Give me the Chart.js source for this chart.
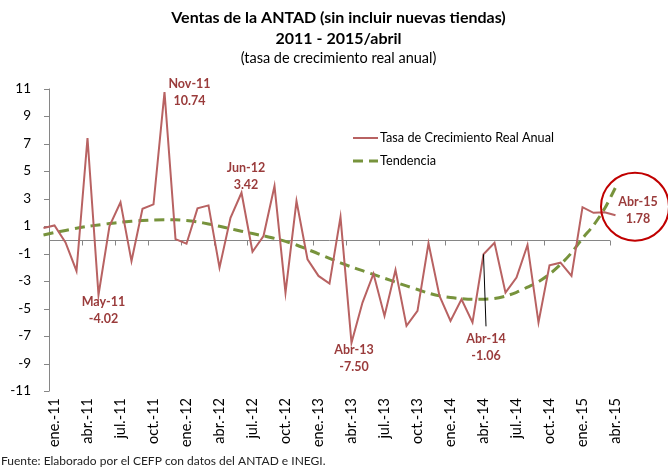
<!DOCTYPE html>
<html>
<head>
<meta charset="utf-8">
<script src="https://cdn.jsdelivr.net/npm/chart.js@4.4.1/dist/chart.umd.min.js"></script>
<style>
  html, body { margin: 0; padding: 0; background: #fff; }
  #wrap { width: 668px; height: 469px; position: relative; }
</style>
</head>
<body>
<div id="wrap"><canvas id="chart"></canvas></div>
<script>
// meses, dic-10 a abr-15
const months = [
  'dic.-10',
  'ene.-11','feb.-11','mar.-11','abr.-11','may.-11','jun.-11','jul.-11','ago.-11','sep.-11','oct.-11','nov.-11','dic.-11',
  'ene.-12','feb.-12','mar.-12','abr.-12','may.-12','jun.-12','jul.-12','ago.-12','sep.-12','oct.-12','nov.-12','dic.-12',
  'ene.-13','feb.-13','mar.-13','abr.-13','may.-13','jun.-13','jul.-13','ago.-13','sep.-13','oct.-13','nov.-13','dic.-13',
  'ene.-14','feb.-14','mar.-14','abr.-14','may.-14','jun.-14','jul.-14','ago.-14','sep.-14','oct.-14','nov.-14','dic.-14',
  'ene.-15','feb.-15','mar.-15','abr.-15'
];

// Tasa de Crecimiento Real Anual
const growth = [
  0.85,
  1.04, -0.20, -2.27, 7.40, -4.02, 1.00, 2.72, -1.55, 2.25, 2.57, 10.74, 0.05,
  -0.29, 2.28, 2.50, -2.03, 1.60, 3.42, -0.87, 0.27, 3.90, -3.85, 2.81, -1.42,
  -2.63, -3.19, 1.65, -7.50, -4.57, -2.47, -5.54, -2.20, -6.26, -5.17, -0.26, -4.09,
  -5.90, -4.33, -6.02, -1.06, -0.22, -3.85, -2.75, -0.38, -6.02, -1.86, -1.67, -2.63,
  2.37, 1.96, 2.00, 1.78
];

// Tendencia
const trend = [
  0.35,
  0.52, 0.68, 0.84, 0.97, 1.08, 1.18, 1.27, 1.34, 1.40, 1.44, 1.46, 1.45,
  1.40, 1.30, 1.15, 0.98, 0.80, 0.62, 0.45, 0.28, 0.10, -0.12, -0.38, -0.70,
  -1.02, -1.36, -1.68, -1.98, -2.25, -2.52, -2.80, -3.08, -3.36, -3.62, -3.88, -4.08,
  -4.20, -4.28, -4.33, -4.33, -4.28, -4.10, -3.82, -3.45, -3.05, -2.50, -1.80, -0.95,
  0.10, 1.05, 2.25, 3.80
];

const yMin = -11, yMax = 11, yStep = 2;

const RED = '#b86262';
const GREEN = '#77933c';
const NOTE = '#9a3b3b';
const AXIS = '#868686';

Chart.defaults.font.family = 'Lato, "Noto Sans", sans-serif';
Chart.defaults.color = '#000';

function noteName(m) {
  const s = m.replace('.', '');
  return s.charAt(0).toUpperCase() + s.slice(1);
}

// ejes tipo Excel: eje vertical entre dic-10 y ene-11, linea en cero
const axesPlugin = {
  id: 'excelAxes',
  beforeDatasetsDraw(chart) {
    const {ctx, scales: {x, y}} = chart;
    const bx = k => (x.getPixelForValue(k) + x.getPixelForValue(k + 1)) / 2;
    const ax = bx(0);
    const y0 = y.getPixelForValue(0);
    ctx.save();
    ctx.strokeStyle = AXIS;
    ctx.lineWidth = 1;
    ctx.beginPath();
    ctx.moveTo(ax + 0.5, y.getPixelForValue(yMax));
    ctx.lineTo(ax + 0.5, y.getPixelForValue(yMin));
    y.ticks.forEach(t => {
      const py = Math.round(y.getPixelForValue(t.value)) + 0.5;
      ctx.moveTo(ax - 5, py);
      ctx.lineTo(ax + 0.5, py);
    });
    const yz = Math.round(y0) + 0.5;
    ctx.moveTo(ax, yz);
    ctx.lineTo(bx(months.length - 2), yz);
    for (let k = 0; k < months.length - 1; k += 3) {
      const px = Math.round(bx(k)) + 0.5;
      ctx.moveTo(px, yz);
      ctx.lineTo(px, yz + 5);
    }
    ctx.stroke();
    ctx.restore();
  }
};

const notesPlugin = {
  id: 'notes',
  afterDatasetsDraw(chart, args, opts) {
    const {ctx, scales: {x, y}} = chart;
    ctx.save();
    ctx.font = 'bold 12.5px Lato, "Noto Sans", sans-serif';
    ctx.fillStyle = NOTE;
    ctx.textAlign = 'center';
    ctx.textBaseline = 'middle';
    opts.items.forEach(n => {
      const px = x.getPixelForValue(n.index);
      const py = y.getPixelForValue(growth[n.index]);
      if (n.leader) {
        ctx.strokeStyle = '#000';
        ctx.lineWidth = 1;
        ctx.beginPath();
        ctx.moveTo(px, py);
        ctx.lineTo(px + n.dx, py + n.leader);
        ctx.stroke();
      }
      if (n.circle) {
        ctx.strokeStyle = '#c00000';
        ctx.lineWidth = 2;
        ctx.beginPath();
        ctx.arc(px + n.circle.dx, py + n.circle.dy, n.circle.r, 0, Math.PI * 2);
        ctx.stroke();
      }
      ctx.fillText(noteName(months[n.index]), px + n.dx, py + n.dy);
      ctx.fillText(growth[n.index].toFixed(2), px + n.dx, py + n.dy + 17);
    });
    ctx.restore();
  }
};

const legendPlugin = {
  id: 'boxLegend',
  afterDraw(chart, args, opts) {
    const {ctx} = chart;
    ctx.save();
    ctx.font = '12.7px Lato, "Noto Sans", sans-serif';
    ctx.textBaseline = 'middle';
    ctx.fillStyle = '#000';
    chart.data.datasets.forEach((ds, i) => {
      const ly = opts.y + i * opts.gap;
      ctx.strokeStyle = ds.borderColor;
      ctx.lineWidth = ds.borderWidth;
      ctx.setLineDash(ds.borderDash || []);
      ctx.beginPath();
      ctx.moveTo(opts.x, ly);
      ctx.lineTo(opts.x + 25, ly);
      ctx.stroke();
      ctx.setLineDash([]);
      ctx.fillText(ds.label, opts.x + 27, ly);
    });
    // fuente
    ctx.font = '12px Lato, "Noto Sans", sans-serif';
    ctx.fillStyle = '#222';
    ctx.fillText('Fuente: Elaborado por el CEFP con datos del ANTAD e INEGI.', 1, 461);
    ctx.restore();
  }
};

const ctx = document.getElementById('chart').getContext('2d');

const data = {
  labels: months,
  datasets: [
    {
      label: 'Tasa de Crecimiento Real Anual',
      data: growth,
      borderColor: RED,
      borderWidth: 2,
      pointRadius: 0,
      tension: 0,
      fill: false,
    },
    {
      label: 'Tendencia',
      data: trend,
      borderColor: GREEN,
      borderWidth: 3,
      borderDash: [10, 6],
      pointRadius: 0,
      tension: 0.3,
      fill: false,
    },
  ],
};

const config = {
  type: 'line',
  data: data,
  options: {
    responsive: true,
    maintainAspectRatio: false,
    animation: false,
    layout: { padding: { left: 9, right: 0, top: 0, bottom: 0 } },
    plugins: {
      legend: { display: false },
      tooltip: { enabled: false },
      title: {
        display: true,
        text: ['Ventas de la ANTAD (sin incluir nuevas tiendas)', '2011 - 2015/abril'],
        font: { size: 16, weight: 'bold', lineHeight: 1.33 },
        color: '#000',
        padding: { top: 7, bottom: 0 },
      },
      subtitle: {
        display: true,
        text: '(tasa de crecimiento real anual)',
        font: { size: 14.5, lineHeight: 1.1 },
        color: '#000',
        padding: { top: 1, bottom: 22 },
      },
      notes: {
        items: [
          { index: 11, dx: 25, dy: -8 },
          { index: 5, dx: 5, dy: 7 },
          { index: 18, dx: 4.5, dy: -25 },
          { index: 28, dx: 2.5, dy: 7 },
          { index: 40, dx: 2.5, dy: 85, leader: 72 },
          { index: 52, dx: 22.5, dy: -13, circle: { dx: 19.5, dy: -8.5, r: 34 } },
        ],
      },
      boxLegend: { x: 353, y: 138, gap: 23 },
    },
    scales: {
      x: {
        offset: true,
        grid: { display: false, drawTicks: false },
        border: { display: false },
        ticks: {
          autoSkip: false,
          minRotation: 90,
          maxRotation: 90,
          padding: 7,
          font: { size: 14.5 },
          color: '#000',
          callback: (v, i) => (i % 3 === 1 ? months[i] : ''),
        },
        afterFit: s => { s.height = 78; },
      },
      y: {
        min: yMin,
        max: yMax,
        grid: { display: false, drawTicks: false },
        border: { display: false },
        ticks: {
          stepSize: yStep,
          padding: 7,
          font: { size: 13.5 },
          color: '#000',
        },
        afterFit: s => { s.width = 29; },
      },
      // hueco a la derecha para el circulo de Abr-15
      yRight: {
        position: 'right',
        min: yMin,
        max: yMax,
        grid: { display: false, drawTicks: false },
        border: { display: false },
        ticks: { display: false },
        afterFit: s => { s.width = 47; },
      },
    },
  },
  plugins: [axesPlugin, notesPlugin, legendPlugin],
};

const myChart = new Chart(ctx, config);
</script>
</body>
</html>
